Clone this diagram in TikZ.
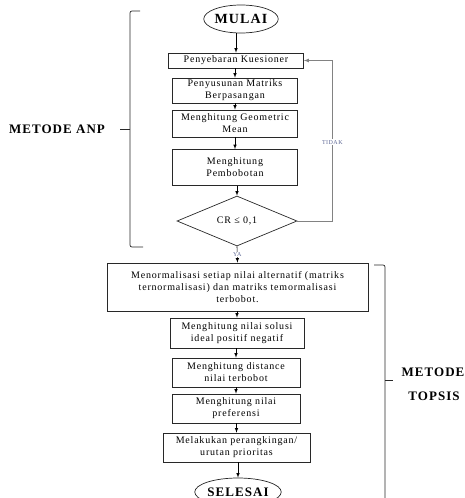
\documentclass[tikz,border=0pt]{standalone}
\usepackage{fontspec}
\setmainfont{Liberation Serif}
\newfontfamily\kotakfont[LetterSpace=8]{Liberation Serif}
\usetikzlibrary{shapes.geometric}

\definecolor{garis}{RGB}{40,40,40}
\definecolor{abu}{RGB}{130,130,130}
\definecolor{label}{RGB}{95,105,150}

\tikzset{
  kotak/.style={draw=garis, line width=0.7pt, rectangle, align=center,
    inner sep=1pt, font=\kotakfont\fontsize{10}{12}\selectfont},
  terminal/.style={draw=garis, line width=0.7pt, ellipse, inner sep=0pt,
    font=\kotakfont\bfseries\fontsize{14}{16}\selectfont},
  keputusan/.style={draw=garis, line width=0.7pt, diamond, inner sep=0pt,
    font=\kotakfont\fontsize{10}{12}\selectfont},
  kecil/.style={fill=white, inner sep=1pt, text=label,
    font=\kotakfont\fontsize{6}{7}\selectfont},
  judul/.style={font=\kotakfont\bfseries\fontsize{13}{15}\selectfont},
  panah/.style={-latex, line width=0.6pt, draw=black},
  kurung/.style={line width=0.7pt, draw=garis, rounded corners=2pt}
}

\begin{document}
\begin{tikzpicture}[x=1pt,y=-1pt]

\useasboundingbox (0,0) rectangle (464,498);

% Metode ANP
\node[terminal, minimum width=67pt, minimum height=28pt]
(mulai) at (241,19)
{MULAI};

\node[kotak, minimum width=135pt, minimum height=15pt]
(kues) at (236,60.5)
{Penyebaran Kuesioner};

\node[kotak, minimum width=125pt, minimum height=25pt]
(matriks) at (235,90.5)
{Penyusunan Matriks\\Berpasangan};

\node[kotak, minimum width=125pt, minimum height=27pt]
(geomean) at (235,123.5)
{Menghitung Geometric\\Mean};

\node[kotak, minimum width=125pt, minimum height=36pt]
(bobot) at (235,167.5)
{Menghitung\\Pembobotan};

\node[keputusan, minimum width=120pt, minimum height=50pt]
(cek) at (237,221)
{CR ≤ 0,1};

% Metode TOPSIS
\node[kotak, minimum width=261pt, minimum height=48pt]
(norm) at (237.5,287)
{Menormalisasi setiap nilai alternatif (matriks\\ternormalisasi) dan matriks temormalisasi\\terbobot.};

\node[kotak, minimum width=134pt, minimum height=30pt]
(solusi) at (237,333)
{Menghitung nilai solusi\\ideal positif negatif};

\node[kotak, minimum width=128pt, minimum height=29pt]
(jarak) at (236,372.5)
{Menghitung distance\\nilai terbobot};

\node[kotak, minimum width=128pt, minimum height=29pt]
(pref) at (236,408.5)
{Menghitung nilai\\preferensi};

\node[kotak, minimum width=147pt, minimum height=29pt]
(rangking) at (236.5,447.5)
{Melakukan perangkingan/\\urutan prioritas};

\node[terminal, minimum width=83pt, minimum height=28pt, font=\kotakfont\bfseries\fontsize{13}{15}\selectfont]
(selesai) at (238,492)
{SELESAI};

% Panah
\draw[panah] (mulai.south -| kues.north) -- (kues.north);
\draw[panah] (kues.south -| matriks.north) -- (matriks.north);
\draw[panah] (matriks) -- (geomean);
\draw[panah] (geomean) -- (bobot);
\draw[panah] (bobot.south -| cek.north) -- (cek.north);
\draw[panah] (cek.south) -- node[kecil]{YA} (norm.north);
\draw[panah] (norm.south -| solusi.north) -- (solusi.north);
\draw[panah] (solusi.south -| jarak.north) -- (jarak.north);
\draw[panah] (jarak) -- (pref);
\draw[panah] (pref.south -| rangking.north) -- (rangking.north);
\draw[panah] (rangking.south -| selesai.north) -- (selesai.north);

% Kembali
\draw[-latex, line width=0.7pt, draw=abu]
(cek.east)
-- ++(35,0)
|- node[kecil, pos=0.245]{TIDAK}
(kues.east);

% Kurung kiri
\draw[kurung] (140,11) -- (130,11) -- (130,247) -- (143,247);
\draw[kurung] (130,129) -- (120,129);
\node[judul] (anp) at (57,129) {METODE ANP};

% Kurung kanan
\draw[kurung] (374,265) -- (385,265) -- (385,510) -- (374,510);
\draw[kurung] (385,380) -- (393,380);
\node[judul] (metode) at (433,372) {METODE};
\node[judul] (topsis) at (434,396) {TOPSIS};

\end{tikzpicture}
\end{document}
